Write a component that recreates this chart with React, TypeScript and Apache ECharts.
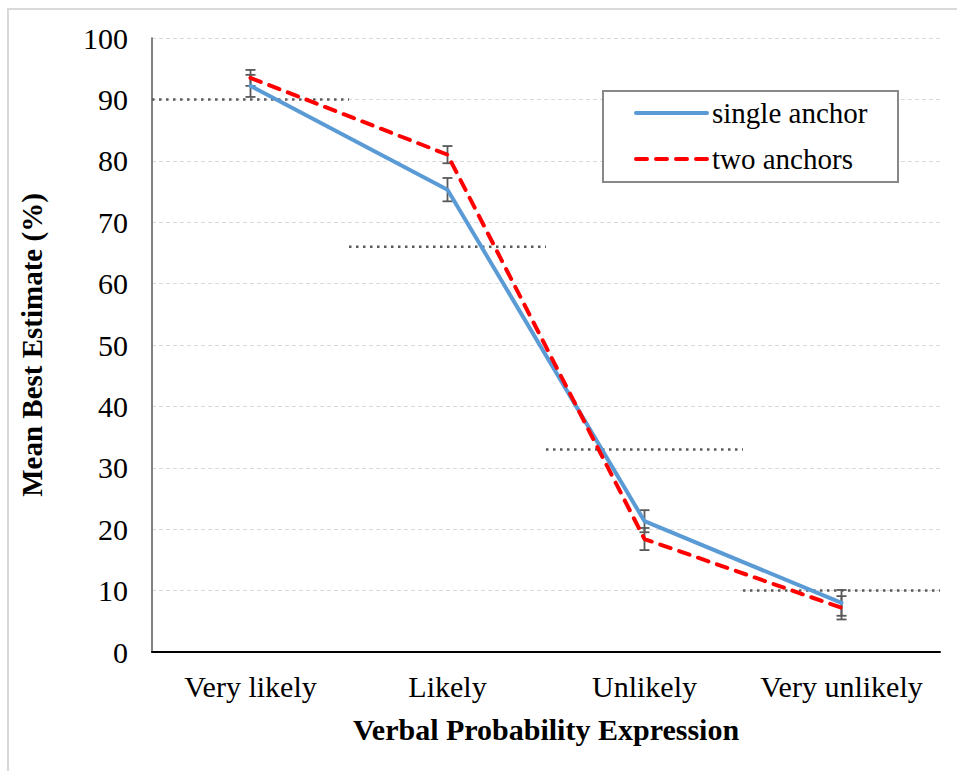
import React, { useEffect, useRef } from "react";
import * as echarts from "echarts";

const categories = ["Very likely", "Likely", "Unlikely", "Very unlikely"];
const singleAnchor = [92.2, 75.3, 21.3, 8.0];
const twoAnchors = [93.5, 81.0, 18.4, 7.2];
const singleErr = [1.8, 1.9, 1.8, 2.1];
const twoErr = [1.3, 1.4, 1.8, 1.9];
const referenceValues = [90, 66, 33, 10];
const yTicks = { min: 0, max: 100, interval: 10 };

const FONT = "Liberation Serif, Times New Roman, serif";

export default function App() {
  const ref = useRef<HTMLDivElement>(null);
  useEffect(() => {
    if (!ref.current) return;
    const chart = echarts.init(ref.current, null, { renderer: "svg" });

    const errData: any[] = [];
    categories.forEach((_, i) => {
      errData.push([i, singleAnchor[i] - singleErr[i], singleAnchor[i] + singleErr[i]]);
      errData.push([i, twoAnchors[i] - twoErr[i], twoAnchors[i] + twoErr[i]]);
    });

    const refSeries = referenceValues.map((v, i) => ({
      type: "line",
      xAxisIndex: 1,
      yAxisIndex: 0,
      data: [
        [i, v],
        [i + 1, v],
      ],
      symbol: "none",
      silent: true,
      z: 1,
      lineStyle: { color: "#5a5a5a", width: 2.5, type: [2.5, 4.5] },
    }));

    chart.setOption({
      animation: false,
      backgroundColor: "#ffffff",
      textStyle: { fontFamily: FONT },
      grid: { left: 152, top: 38, right: 17, bottom: 119, containLabel: false },
      xAxis: [
        {
          type: "category",
          data: categories,
          boundaryGap: true,
          axisLine: { lineStyle: { color: "#000", width: 2 } },
          axisTick: { show: false },
          axisLabel: { interval: 0, fontSize: 30, color: "#000", fontFamily: FONT, margin: 19 },
          name: "Verbal Probability Expression",
          nameLocation: "middle",
          nameGap: 62,
          nameTextStyle: { fontSize: 30, fontWeight: "bold", color: "#000", fontFamily: FONT },
        },
        {
          type: "value",
          min: 0,
          max: 4,
          show: false,
        },
      ],
      yAxis: {
        type: "value",
        min: yTicks.min,
        max: yTicks.max,
        interval: yTicks.interval,
        axisLine: { show: true, lineStyle: { color: "#595959", width: 1.5 } },
        axisTick: { show: false },
        axisLabel: { fontSize: 30, color: "#000", fontFamily: FONT, margin: 24 },
        splitLine: { lineStyle: { color: "#d9d9d9", width: 1, type: [4, 3] } },
        name: "Mean Best Estimate (%)",
        nameLocation: "middle",
        nameGap: 106,
        nameTextStyle: { fontSize: 29, fontWeight: "bold", color: "#000", fontFamily: FONT },
      },
      legend: {
        data: ["single anchor", "two anchors"],
        orient: "vertical",
        left: 629,
        top: 92,
        itemWidth: 71,
        itemHeight: 14,
        itemGap: 14,
        z: 20,
        itemStyle: { opacity: 0 },
        lineStyle: { width: 4, cap: "round" },
        textStyle: { fontSize: 29, color: "#000", fontFamily: FONT, lineHeight: 32, padding: [0, 0, 0, 0] },
      },
      graphic: [
        {
          type: "rect",
          z: 15,
          shape: { x: 603, y: 91, width: 295, height: 91 },
          style: { fill: "#fff", stroke: "#888", lineWidth: 2 },
        },
        {
          type: "line",
          z: 15,
          shape: { x1: 8, y1: 9, x2: 957, y2: 9 },
          style: { stroke: "#d9d9d9", lineWidth: 2 },
        },
        {
          type: "line",
          z: 15,
          shape: { x1: 8, y1: 8, x2: 8, y2: 771 },
          style: { stroke: "#d9d9d9", lineWidth: 2 },
        },
      ],
      series: [
        ...refSeries,
        {
          name: "single anchor",
          type: "line",
          data: singleAnchor,
          symbol: "none",
          z: 3,
          lineStyle: { color: "#5b9bd5", width: 4, cap: "round" },
          itemStyle: { color: "#5b9bd5" },
        },
        {
          name: "two anchors",
          type: "line",
          data: twoAnchors,
          symbol: "none",
          z: 4,
          lineStyle: { color: "#ff0000", width: 4, type: [11, 9], cap: "round" },
          itemStyle: { color: "#ff0000" },
        },
        {
          type: "custom",
          z: 2,
          silent: true,
          data: errData,
          renderItem: (params: any, api: any) => {
            const x = api.value(0);
            const lo = api.coord([x, api.value(1)]);
            const hi = api.coord([x, api.value(2)]);
            const cx = lo[0];
            const hw = 5;
            const st = { stroke: "#595959", lineWidth: 1.8 };
            return {
              type: "group",
              children: [
                { type: "line", shape: { x1: cx, y1: lo[1], x2: cx, y2: hi[1] }, style: st },
                { type: "line", shape: { x1: cx - hw, y1: lo[1], x2: cx + hw, y2: lo[1] }, style: st },
                { type: "line", shape: { x1: cx - hw, y1: hi[1], x2: cx + hw, y2: hi[1] }, style: st },
              ],
            };
          },
        },
      ],
    });
    return () => chart.dispose();
  }, []);
  return (
    <div
      ref={ref}
      style={{ position: "fixed", left: 0, top: 0, width: 957, height: 771, background: "#fff" }}
    />
  );
}
